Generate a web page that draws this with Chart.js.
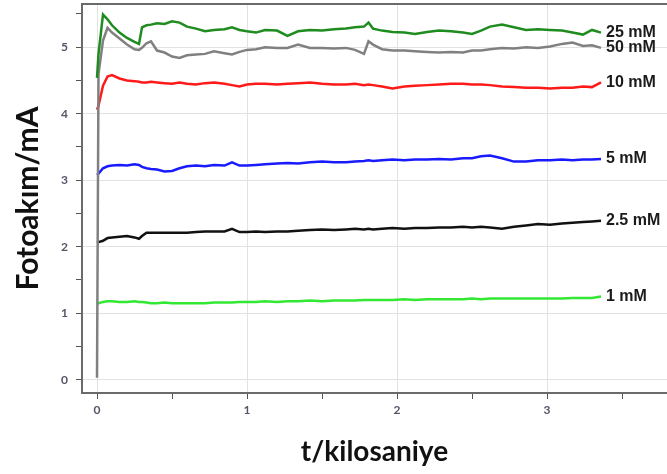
<!DOCTYPE html>
<html lang="tr">
<head>
    <meta charset="UTF-8">
    <title>Fotoakım</title>
    <script src="https://cdn.jsdelivr.net/npm/chart.js"></script>
    <style>
        body { margin: 0; background: #fff; overflow: hidden; }
    </style>
</head>
<body>
    <canvas id="chart" width="667" height="474"></canvas>

    <script>
        // zaman (kilosaniye)
        var zaman = [0, 0.01, 0.04, 0.07, 0.1, 0.15, 0.2, 0.25, 0.28, 0.3, 0.33, 0.36, 0.4, 0.45, 0.5, 0.55, 0.6, 0.66, 0.72, 0.78,
            0.85, 0.9, 0.95, 1.0, 1.06, 1.12, 1.2, 1.27, 1.34, 1.42, 1.5, 1.58, 1.66, 1.72, 1.78, 1.81, 1.84, 1.9, 1.97, 2.05,
            2.12, 2.2, 2.28, 2.36, 2.44, 2.5, 2.56, 2.62, 2.7, 2.78, 2.86, 2.94, 3.02, 3.1, 3.17, 3.24, 3.3, 3.36]

        var seriesLabels = ["25 mM", "50 mM", "10 mM", "5 mM", "2.5 mM", "1 mM"]
        var seriesColors = ["#1f8c1f", "#808080", "#ff1a1a", "#1a1aff", "#111111", "#33e833"]

        var c25 = [4.54, 4.9, 5.49, 5.42, 5.33, 5.22, 5.14, 5.08, 5.05, 5.3, 5.33, 5.34, 5.36, 5.35, 5.39, 5.37, 5.31, 5.28, 5.24, 5.26,
            5.27, 5.3, 5.26, 5.24, 5.22, 5.26, 5.25, 5.17, 5.24, 5.26, 5.25, 5.27, 5.28, 5.3, 5.31, 5.37, 5.28, 5.25, 5.23, 5.22,
            5.2, 5.23, 5.25, 5.24, 5.22, 5.2, 5.25, 5.31, 5.34, 5.3, 5.26, 5.27, 5.26, 5.25, 5.22, 5.19, 5.26, 5.22]
        var c50 = [0.03, 4.6, 5.1, 5.29, 5.22, 5.13, 5.04, 4.97, 4.96, 4.99, 5.06, 5.09, 4.95, 4.92, 4.86, 4.84, 4.88, 4.89, 4.9, 4.94,
            4.91, 4.89, 4.93, 4.96, 4.97, 5.0, 4.99, 4.99, 5.04, 4.99, 4.99, 4.98, 4.99, 4.96, 4.9, 5.09, 5.04, 4.97, 4.95, 4.95,
            4.94, 4.93, 4.92, 4.93, 4.92, 4.95, 4.95, 4.97, 4.99, 4.98, 5.0, 4.99, 5.01, 5.05, 5.07, 5.02, 5.03, 4.99]
        var c10 = [4.06, 4.12, 4.42, 4.56, 4.58, 4.53, 4.5, 4.49, 4.48, 4.47, 4.47, 4.48, 4.47, 4.46, 4.45, 4.47, 4.45, 4.44, 4.46, 4.47,
            4.45, 4.43, 4.41, 4.44, 4.45, 4.45, 4.44, 4.45, 4.46, 4.47, 4.45, 4.44, 4.44, 4.45, 4.43, 4.44, 4.43, 4.41, 4.38, 4.41,
            4.42, 4.43, 4.44, 4.45, 4.45, 4.44, 4.44, 4.43, 4.41, 4.4, 4.39, 4.39, 4.38, 4.39, 4.39, 4.41, 4.4, 4.47]
        var c5 = [3.08, 3.1, 3.18, 3.21, 3.22, 3.23, 3.22, 3.24, 3.23, 3.2, 3.18, 3.17, 3.16, 3.13, 3.14, 3.18, 3.21, 3.22, 3.21, 3.23,
            3.22, 3.27, 3.22, 3.22, 3.23, 3.24, 3.25, 3.26, 3.25, 3.27, 3.28, 3.27, 3.27, 3.28, 3.29, 3.3, 3.29, 3.3, 3.31, 3.3,
            3.31, 3.31, 3.32, 3.31, 3.33, 3.33, 3.36, 3.37, 3.33, 3.28, 3.28, 3.3, 3.3, 3.31, 3.3, 3.31, 3.31, 3.32]
        var c2_5 = [2.06, 2.07, 2.09, 2.13, 2.14, 2.15, 2.16, 2.14, 2.12, 2.16, 2.21, 2.21, 2.21, 2.21, 2.21, 2.21, 2.21, 2.22, 2.23, 2.23,
            2.23, 2.27, 2.22, 2.22, 2.23, 2.22, 2.23, 2.23, 2.24, 2.25, 2.26, 2.25, 2.26, 2.27, 2.26, 2.27, 2.26, 2.27, 2.28, 2.27,
            2.28, 2.28, 2.29, 2.29, 2.3, 2.29, 2.3, 2.29, 2.27, 2.3, 2.32, 2.34, 2.33, 2.35, 2.36, 2.37, 2.38, 2.39]
        var c1 = [1.14, 1.15, 1.17, 1.18, 1.18, 1.17, 1.17, 1.18, 1.17, 1.17, 1.16, 1.15, 1.15, 1.16, 1.15, 1.15, 1.15, 1.15, 1.15, 1.16,
            1.16, 1.16, 1.17, 1.17, 1.17, 1.18, 1.17, 1.18, 1.18, 1.19, 1.18, 1.19, 1.19, 1.19, 1.2, 1.2, 1.2, 1.2, 1.2, 1.21,
            1.2, 1.21, 1.21, 1.21, 1.21, 1.22, 1.21, 1.22, 1.22, 1.22, 1.22, 1.22, 1.22, 1.22, 1.23, 1.23, 1.23, 1.25]

        var seriesValues = [c25, c50, c10, c5, c2_5, c1]

        var xTicks = [0, 1, 2, 3]
        var yTicks = [0, 1, 2, 3, 4, 5]
    </script>

    <script>
        var datasets = []
        for (var i = 0; i < seriesValues.length; i++) {
            var pts = []
            for (var j = 0; j < zaman.length; j++) {
                pts.push({ x: zaman[j], y: seriesValues[i][j] })
            }
            datasets.push({
                label: seriesLabels[i],
                data: pts,
                borderColor: seriesColors[i],
                borderWidth: 2.5,
                pointRadius: 0,
                tension: 0,
                fill: false
            })
        }

        // series names at the end of each line + top frame line
        var endLabels = {
            id: 'endLabels',
            afterDatasetsDraw: function (chart) {
                var ctx = chart.ctx
                var area = chart.chartArea
                ctx.save()
                ctx.strokeStyle = '#6a6a6a'
                ctx.lineWidth = 2
                ctx.beginPath()
                ctx.moveTo(area.left, area.top)
                ctx.lineTo(area.right, area.top)
                ctx.stroke()

                ctx.font = 'bold 16px "Liberation Sans", Arial, sans-serif'
                ctx.fillStyle = '#1a1a1a'
                ctx.textBaseline = 'middle'
                chart.data.datasets.forEach(function (ds, k) {
                    var meta = chart.getDatasetMeta(k)
                    var last = meta.data[meta.data.length - 1]
                    ctx.fillText(ds.label, last.x + 5, last.y)
                })
                ctx.restore()
            }
        }

        function isMajor(v, list) {
            return list.indexOf(v) !== -1
        }

        var tickFont = { family: 'Lato, "Liberation Sans", sans-serif', size: 12, weight: 'bold' }

        var ctx = document.getElementById('chart').getContext('2d')
        var myChart = new Chart(ctx, {
            type: 'line',
            data: { datasets: datasets },
            plugins: [endLabels],
            options: {
                responsive: false,
                animation: false,
                layout: { padding: { top: 4, right: 0, left: 0, bottom: 0 } },
                plugins: {
                    legend: { display: false },
                    tooltip: { enabled: false }
                },
                scales: {
                    x: {
                        type: 'linear',
                        min: -0.1,
                        max: 3.8,
                        afterFit: function (scale) {
                            scale.height = 81
                            scale.paddingLeft = 0
                            scale.paddingRight = 0
                        },
                        border: { color: '#6a6a6a', width: 2 },
                        grid: {
                            color: function (c) { return isMajor(c.tick.value, xTicks) ? '#e2e2e2' : 'rgba(0,0,0,0)' },
                            tickColor: '#555',
                            tickLength: 6
                        },
                        ticks: {
                            stepSize: 0.5,
                            includeBounds: false,
                            maxRotation: 0,
                            padding: 4,
                            color: '#55556a',
                            font: tickFont,
                            callback: function (v) { return isMajor(v, xTicks) ? String(v) : '' }
                        },
                        title: {
                            display: true,
                            text: 't/kilosaniye',
                            color: '#111',
                            font: { family: 'Lato, "Liberation Sans", sans-serif', size: 28, weight: 'bold' },
                            padding: { top: 0, bottom: 5 }
                        }
                    },
                    y: {
                        min: -0.2,
                        max: 5.65,
                        afterFit: function (scale) {
                            scale.width = 82
                            scale.paddingTop = 0
                            scale.paddingBottom = 0
                        },
                        border: { color: '#6a6a6a', width: 2 },
                        grid: {
                            color: function (c) { return isMajor(c.tick.value, yTicks) ? '#e2e2e2' : 'rgba(0,0,0,0)' },
                            tickColor: '#555',
                            tickLength: 6
                        },
                        ticks: {
                            stepSize: 0.5,
                            includeBounds: false,
                            padding: 8,
                            color: '#55556a',
                            font: tickFont,
                            callback: function (v) { return isMajor(v, yTicks) ? String(v) : '' }
                        },
                        title: {
                            display: true,
                            text: 'Fotoakım/mA',
                            color: '#111',
                            font: { family: 'Lato, "Liberation Sans", sans-serif', size: 30, weight: 'bold' },
                            padding: { top: 10, bottom: 0 }
                        }
                    }
                }
            }
        });
    </script>
</body>
</html>
